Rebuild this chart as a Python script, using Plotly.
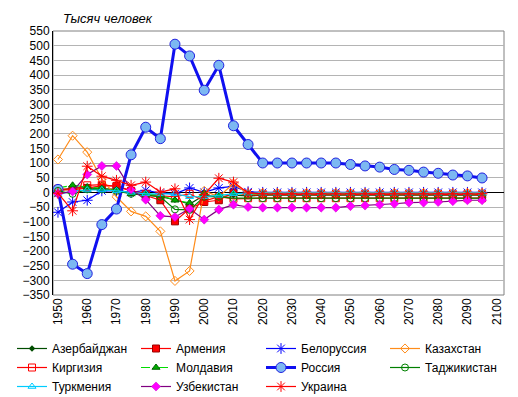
import plotly.graph_objects as go

years = list(range(1950, 2100, 5))

azerbaijan = [5, 15, 15, 12, 10, -3, -10, -15, -25, -40, -10, -15, -10, -12,
              -10, -10, -10, -10, -10, -10, -10, -10, -10, -10, -10, -10, -10, -10, -10, -10]
armenia = [8, 8, 15, 22, 22, 5, -10, -27, -99, -55, -33, -27, 0, -10,
           -8, -8, -8, -8, -8, -8, -8, -8, -8, -8, -8, -8, -8, -8, -8, -8]
belorussia = [-68, -33, -27, 5, 5, 0, 7, -3, -5, 15, 0, 15, 20, 2,
              0, 0, 0, 0, 0, 0, 0, 0, 0, 0, 0, 0, 0, 0, 0, 0]
kazakhstan = [112, 193, 137, 45, -15, -65, -82, -133, -302, -268, 5, -15, 30, -5,
              -2, -2, -2, -2, -2, -2, -2, -2, -2, -2, -2, -2, -2, -2, -2, -2]
kirgizia = [12, 10, 24, 26, 20, 5, -5, -12, -15, -5, -30, -15, -22, -20,
            -20, -20, -20, -20, -20, -20, -20, -20, -20, -20, -20, -20, -20, -20, -20, -20]
moldova = [15, 24, 18, 12, 8, -5, -5, -10, -27, -36, -2, -10, -4, -5,
           -5, -5, -5, -5, -5, -5, -5, -5, -5, -5, -5, -5, -5, -5, -5, -5]
russia = [10, -245, -277, -110, -57, 128, 222, 183, 505, 465, 348, 433, 227, 163,
          100, 100, 100, 100, 100, 100, 95, 90, 86, 78, 75, 69, 65, 59, 56, 49]
tajikistan = [5, -5, 10, 10, 5, -5, -10, -15, -58, -60, -15, -15, -20, -20,
              -20, -20, -20, -20, -20, -20, -20, -20, -20, -20, -20, -20, -20, -20, -20, -20]
turkmenia = [-8, 5, 8, 8, 5, 0, -5, -5, -5, -15, -15, -10, -5, -3,
             -3, -3, -3, -3, -3, -3, -3, -3, -3, -3, -3, -3, -3, -3, -3, -3]
uzbekistan = [-5, 3, 61, 90, 90, 10, -25, -80, -84, -56, -93, -59, -42, -50,
              -52, -52, -52, -52, -52, -52, -47, -45, -42, -39, -35, -35, -33, -30, -27, -27]
ukraine = [-3, -63, 89, 55, 41, 24, 35, 1, 12, -93, -8, 48, 35, -2,
           -5, -5, -5, -5, -5, -5, -5, -5, -5, -5, -5, -5, -5, -5, -5, -5]

x_ticks = list(range(1950, 2101, 10))
y_ticks = list(range(-350, 551, 50))

# (name, values, line style, marker style, legend column)
series = [
    ("Азербайджан", azerbaijan, dict(color="#004d00", width=1.2), dict(symbol="diamond", size=5, color="#004d00"), "legend"),
    ("Армения", armenia, dict(color="#FF0000", width=1.2), dict(symbol="square", size=7, color="#FF0000", line=dict(color="#990000", width=1)), "legend2"),
    ("Белоруссия", belorussia, dict(color="#0000FF", width=1.2), dict(symbol="asterisk-open", size=9, line=dict(color="#0000FF", width=1)), "legend3"),
    ("Казахстан", kazakhstan, dict(color="#FF8C1A", width=1.2), dict(symbol="diamond-open", size=7, color="#FF8C1A", line=dict(width=1)), "legend4"),
    ("Киргизия", kirgizia, dict(color="#FF0000", width=1.2), dict(symbol="square-open", size=7, color="#FF0000", line=dict(width=1)), "legend"),
    ("Молдавия", moldova, dict(color="#00DD00", width=1.2, dash="dash"), dict(symbol="triangle-up", size=7, color="#00AA00", line=dict(color="#006600", width=1)), "legend2"),
    ("Россия", russia, dict(color="#1010F0", width=3), dict(symbol="circle", size=10, color="#7CB8F2", line=dict(color="#2020E0", width=1)), "legend3"),
    ("Таджикистан", tajikistan, dict(color="#008000", width=1.2), dict(symbol="circle-open", size=7, color="#008000", line=dict(width=1)), "legend4"),
    ("Туркмения", turkmenia, dict(color="#00CCFF", width=1.2), dict(symbol="triangle-up-open", size=7, color="#00CCFF", line=dict(width=1)), "legend"),
    ("Узбекистан", uzbekistan, dict(color="#800080", width=1.2), dict(symbol="diamond", size=7, color="#FF00FF", line=dict(color="#CC00CC", width=0.5)), "legend2"),
    ("Украина", ukraine, dict(color="#FF0000", width=1.2), dict(symbol="asterisk-open", size=9, line=dict(color="#FF0000", width=1)), "legend3"),
]

fig = go.Figure()
for name, vals, line, marker, leg in series:
    fig.add_trace(go.Scatter(x=years, y=vals, name=name, mode="lines+markers",
                             line=line, marker=marker, legend=leg))

font_family = "Liberation Sans, Arial, sans-serif"
W, H = 518, 397
L, R, T, B = 53, 14, 31, 102
PW, PH = W - L - R, H - T - B


def legend_at(px_x, px_y):
    return dict(orientation="v", xref="paper", yref="container",
                x=(px_x - L) / PW, y=1 - px_y / H, xanchor="left", yanchor="top",
                font=dict(family=font_family, size=12, color="black"),
                bgcolor="rgba(0,0,0,0)", tracegroupgap=0, itemwidth=30,
                traceorder="normal")


LEG_TOP = 334
fig.update_layout(
    width=W, height=H,
    margin=dict(l=L, r=R, t=T, b=B),
    paper_bgcolor="white", plot_bgcolor="white",
    font=dict(family=font_family, size=12, color="black"),
    showlegend=True,
    legend=legend_at(12, LEG_TOP),
    legend2=legend_at(136, LEG_TOP),
    legend3=legend_at(261, LEG_TOP),
    legend4=legend_at(385, LEG_TOP),
    xaxis=dict(range=[1948.3, 2102.5], tickvals=x_ticks, ticktext=[str(t) for t in x_ticks],
               tickangle=-90, showgrid=False, zeroline=False, showline=False,
               tickfont=dict(size=12), ticks="", automargin=False),
    yaxis=dict(range=[-350, 550], tickvals=y_ticks, showgrid=True, gridcolor="#B4B4B4",
               gridwidth=1, zeroline=True, zerolinecolor="black", zerolinewidth=1,
               showline=True, linecolor="black", linewidth=1, ticks="",
               tickfont=dict(size=12), automargin=False),
    shapes=[dict(type="rect", xref="paper", yref="paper", x0=0, x1=1, y0=0, y1=1,
                 line=dict(color="#808080", width=1), layer="below")],
    annotations=[dict(text="<i>Тысяч человек</i>", xref="paper", yref="paper",
                      x=0.017, y=1.0, xanchor="left", yanchor="bottom", showarrow=False,
                      font=dict(size=13, family=font_family), yshift=3)],
)

fig.write_html("out.html",
               config={"displayModeBar": False},
               post_script="document.body.style.margin='0';document.body.style.padding='0';")
